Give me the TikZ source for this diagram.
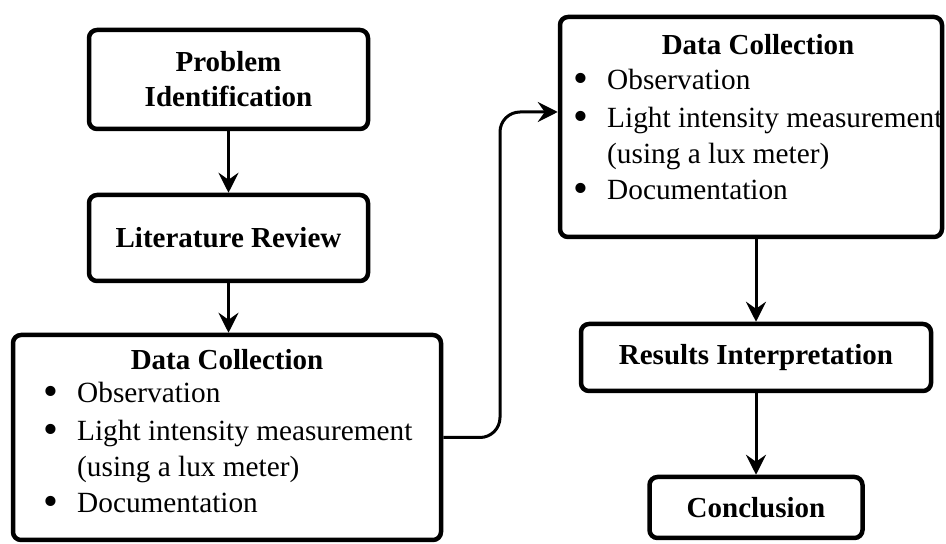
\documentclass[tikz,border=0pt]{standalone}
\usepackage{fontspec}
\setmainfont{Liberation Serif}
\usetikzlibrary{arrows.meta,positioning,calc}

% Bullet list shared by both data collection boxes
\newcommand{\dcdot}{\smash{\raisebox{-3pt}{\scalebox{1.45}{\textbullet}}}}
\newcommand{\dcitems}{%
    \begin{tabular}[t]{@{}p{34pt}@{}l@{}}
        \dcdot & Observation\\[2pt]
        \dcdot & Light intensity measurement\\
               & (using a lux meter)\\
        \dcdot & Documentation
    \end{tabular}}

\begin{document}
\begin{tikzpicture}[x=1pt, y=1pt]
        % Column centres, measured on the page
        \pgfmathsetmacro{\colA}{228.5}
        \pgfmathsetmacro{\colB}{756}

        \tikzset{
            stage/.style={draw, line width=4.5pt, rounded corners=8pt, align=center,
                font=\fontsize{29}{35}\selectfont\bfseries},
            heading/.style={anchor=base, font=\fontsize{29}{35}\selectfont\bfseries},
            items/.style={anchor=base west, inner sep=0pt, font=\fontsize{29.3}{36}\selectfont},
            flow/.style={line width=3pt, -{Stealth[length=20pt, width=20pt, inset=7pt]}},
        }

        \useasboundingbox (0, 0) rectangle (946, 544);

        % Left column
        \node[stage, minimum width=279pt, minimum height=99pt] (problem) at (\colA, 464.5) {Problem\\Identification};
        \node[stage, minimum width=279pt, minimum height=86pt] (review) at (\colA, 306) {Literature Review};
        \node[stage, minimum width=428pt, minimum height=205pt] (dcL) at (227, 106.5) {};
        \node[heading] (dcLtitle) at (227, 174) {Data Collection};
        \node[items] (dcLlist) at (43, 141) {\dcitems};

        % Right column
        \node[stage, minimum width=382pt, minimum height=220pt] (dcR) at (751, 417) {};
        \node[heading] (dcRtitle) at (758, 489) {Data Collection};
        \node[items] (dcRlist) at (573, 454) {\dcitems};
        \node[stage, minimum width=350pt, minimum height=67pt] (result) at (\colB, 186.5) {Results Interpretation};
        \node[stage, minimum width=213pt, minimum height=61pt] (finish) at (\colB, 36.5) {Conclusion};

        % Bend of the link between the columns
        \coordinate (bend) at (500, 432);

        \draw[flow] (problem.south) -- (review.north);
        \draw[flow] (review.south) -- (review.south |- dcL.north);
        \draw[flow, rounded corners=20pt] (dcL.east) -| (bend) -- (bend -| dcR.west);
        \draw[flow] (result.north |- dcR.south) -- (result.north);
        \draw[flow] (result.south) -- (finish.north);
\end{tikzpicture}
\end{document}
